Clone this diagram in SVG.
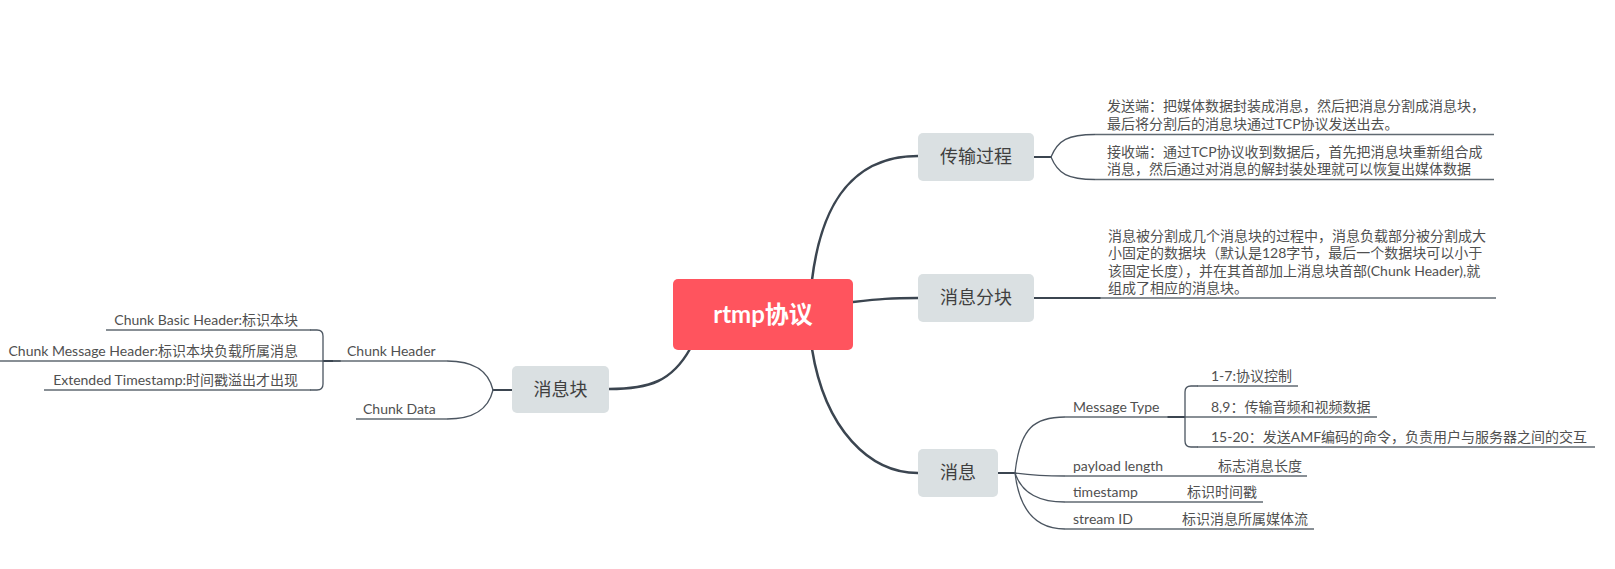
<svg xmlns="http://www.w3.org/2000/svg" width="1615" height="569" viewBox="0 0 1615 569">
<style>
.bg{fill:#ffffff}
.main rect{fill:#ff545e}
.main text{fill:#ffffff;font-family:Lato,"Noto Sans CJK SC",sans-serif;font-size:24px;font-weight:bold;text-anchor:middle}
.sub rect{fill:#dae0e2}
.sub text{fill:#3f3f3f;font-family:Lato,"Noto Sans CJK SC",sans-serif;font-size:18px;text-anchor:middle}
.lbl{fill:#505050;font-family:Lato,"Noto Sans CJK SC",sans-serif;font-size:14px}
.end{text-anchor:end}
.thick{fill:none;stroke:#3b4550;stroke-width:2.5;stroke-linecap:round}
.thin{fill:none;stroke:#4b5560;stroke-width:1.3}
.ul{fill:none;stroke:#606a72;stroke-width:1.5}
</style>
<rect class="bg" x="0" y="0" width="1615" height="569"/>
<g id="connectors">
  <path class="thick" d="M812 280 C820 215 845 156 918 156"/>
  <path class="thick" d="M853 302 C880 299 890 298 918 298"/>
  <path class="thick" d="M812 349 C825 430 870 473 918 473"/>
  <path class="thick" d="M690 349 C672 381 650 389 609 389"/>
  <!-- 传输过程 fork -->
  <path class="thick" style="stroke-width:2" d="M1034 157 L1051 157"/>
  <path class="thin" d="M1051 157 C1058 140 1068 134.5 1095 134.5"/>
  <path class="thin" d="M1051 157 C1058 174 1068 179.5 1095 179.5"/>
  <!-- 消息分块 -->
  <path class="thick" style="stroke-width:2" d="M1034 298 L1100 298"/>
  <!-- 消息 fork -->
  <path class="thick" style="stroke-width:2" d="M998 473 L1015 473"/>
  <path class="thin" d="M1015 473 C1020 427 1035 417 1065 417"/>
  <path class="thin" d="M1015 473 C1030 475 1045 476 1065 476"/>
  <path class="thin" d="M1015 473 C1022 494 1040 502 1065 502"/>
  <path class="thin" d="M1015 473 C1020 516 1040 529 1065 529"/>
  <!-- Message Type bracket -->
  <path class="thick" style="stroke-width:2" d="M1168 417 L1185 417"/>
  <path class="thin" d="M1198 386 L1191 386 Q1185 386 1185 392 L1185 441 Q1185 447 1191 447 L1198 447"/>
  <!-- 消息块 fork -->
  <path class="thick" style="stroke-width:2" d="M512 390 L493 390"/>
  <path class="thin" d="M493 390 C488 369 472 361 447 361"/>
  <path class="thin" d="M493 390 C488 411 472 419 447 419"/>
  <!-- Chunk Header bracket -->
  <path class="thick" style="stroke-width:2" d="M340 361 L323 361"/>
  <path class="thin" d="M310 330 L317 330 Q323 330 323 336 L323 384 Q323 390 317 390 L310 390"/>
</g>
<g id="node-main" class="main">
  <rect x="673" y="279" width="180" height="71" rx="5"/>
  <text x="763" y="323">rtmp协议</text>
</g>
<g id="node-transfer" class="sub">
  <rect x="918" y="133" width="116" height="48" rx="5"/>
  <text x="976" y="163">传输过程</text>
</g>
<g id="node-transfer-send">
  <text class="lbl" x="1107" y="111">发送端：把媒体数据封装成消息，然后把消息分割成消息块，</text>
  <text class="lbl" x="1107" y="128.5">最后将分割后的消息块通过TCP协议发送出去。</text>
  <path class="ul" d="M1095 134.5 L1494 134.5"/>
</g>
<g id="node-transfer-recv">
  <text class="lbl" x="1107" y="156.5">接收端：通过TCP协议收到数据后，首先把消息块重新组合成</text>
  <text class="lbl" x="1107" y="174">消息，然后通过对消息的解封装处理就可以恢复出媒体数据</text>
  <path class="ul" d="M1095 179.5 L1494 179.5"/>
</g>
<g id="node-chunking" class="sub">
  <rect x="918" y="274" width="116" height="48" rx="5"/>
  <text x="976" y="304">消息分块</text>
</g>
<g id="node-chunking-desc">
  <text class="lbl" x="1108" y="240.5">消息被分割成几个消息块的过程中，消息负载部分被分割成大</text>
  <text class="lbl" x="1108" y="258">小固定的数据块（默认是128字节，最后一个数据块可以小于</text>
  <text class="lbl" x="1108" y="275.5">该固定长度），并在其首部加上消息块首部(Chunk Header),就</text>
  <text class="lbl" x="1108" y="293">组成了相应的消息块。</text>
  <path class="ul" d="M1100 298 L1496 298"/>
</g>
<g id="node-message" class="sub">
  <rect x="918" y="449" width="80" height="48" rx="5"/>
  <text x="958" y="479">消息</text>
</g>
<g id="node-msgtype">
  <text class="lbl" x="1073" y="412">Message Type</text>
  <path class="ul" d="M1065 417 L1168 417"/>
</g>
<g id="node-msgtype-1">
  <text class="lbl" x="1211" y="381">1-7:协议控制</text>
  <path class="ul" d="M1197 386 L1298 386"/>
</g>
<g id="node-msgtype-2">
  <text class="lbl" x="1211" y="412">8,9：传输音频和视频数据</text>
  <path class="ul" d="M1185 417 L1377 417"/>
</g>
<g id="node-msgtype-3">
  <text class="lbl" x="1211" y="442">15-20：发送AMF编码的命令，负责用户与服务器之间的交互</text>
  <path class="ul" d="M1197 447 L1595 447"/>
</g>
<g id="node-payload">
  <text class="lbl" x="1073" y="471">payload length</text>
  <text class="lbl" x="1218" y="471">标志消息长度</text>
  <path class="ul" d="M1065 476 L1307 476"/>
</g>
<g id="node-timestamp">
  <text class="lbl" x="1073" y="497">timestamp</text>
  <text class="lbl" x="1187" y="497">标识时间戳</text>
  <path class="ul" d="M1065 502 L1263 502"/>
</g>
<g id="node-streamid">
  <text class="lbl" x="1073" y="524">stream ID</text>
  <text class="lbl" x="1182" y="524">标识消息所属媒体流</text>
  <path class="ul" d="M1065 529 L1314 529"/>
</g>
<g id="node-chunk" class="sub">
  <rect x="512" y="366" width="97" height="47" rx="5"/>
  <text x="560.5" y="395.5">消息块</text>
</g>
<g id="node-chunk-header">
  <text class="lbl" x="347" y="356">Chunk Header</text>
  <path class="ul" d="M333 361 L447 361"/>
</g>
<g id="node-chunk-data">
  <text class="lbl" x="363" y="414">Chunk Data</text>
  <path class="ul" d="M356 419 L447 419"/>
</g>
<g id="node-basic-header">
  <text class="lbl end" x="298" y="325">Chunk Basic Header:标识本块</text>
  <path class="ul" d="M106 330 L311 330"/>
</g>
<g id="node-message-header">
  <text class="lbl end" x="298" y="356">Chunk Message Header:标识本块负载所属消息</text>
  <path class="ul" d="M0 361 L323 361"/>
</g>
<g id="node-ext-ts">
  <text class="lbl end" x="298" y="385">Extended Timestamp:时间戳溢出才出现</text>
  <path class="ul" d="M44 390 L311 390"/>
</g>
</svg>
